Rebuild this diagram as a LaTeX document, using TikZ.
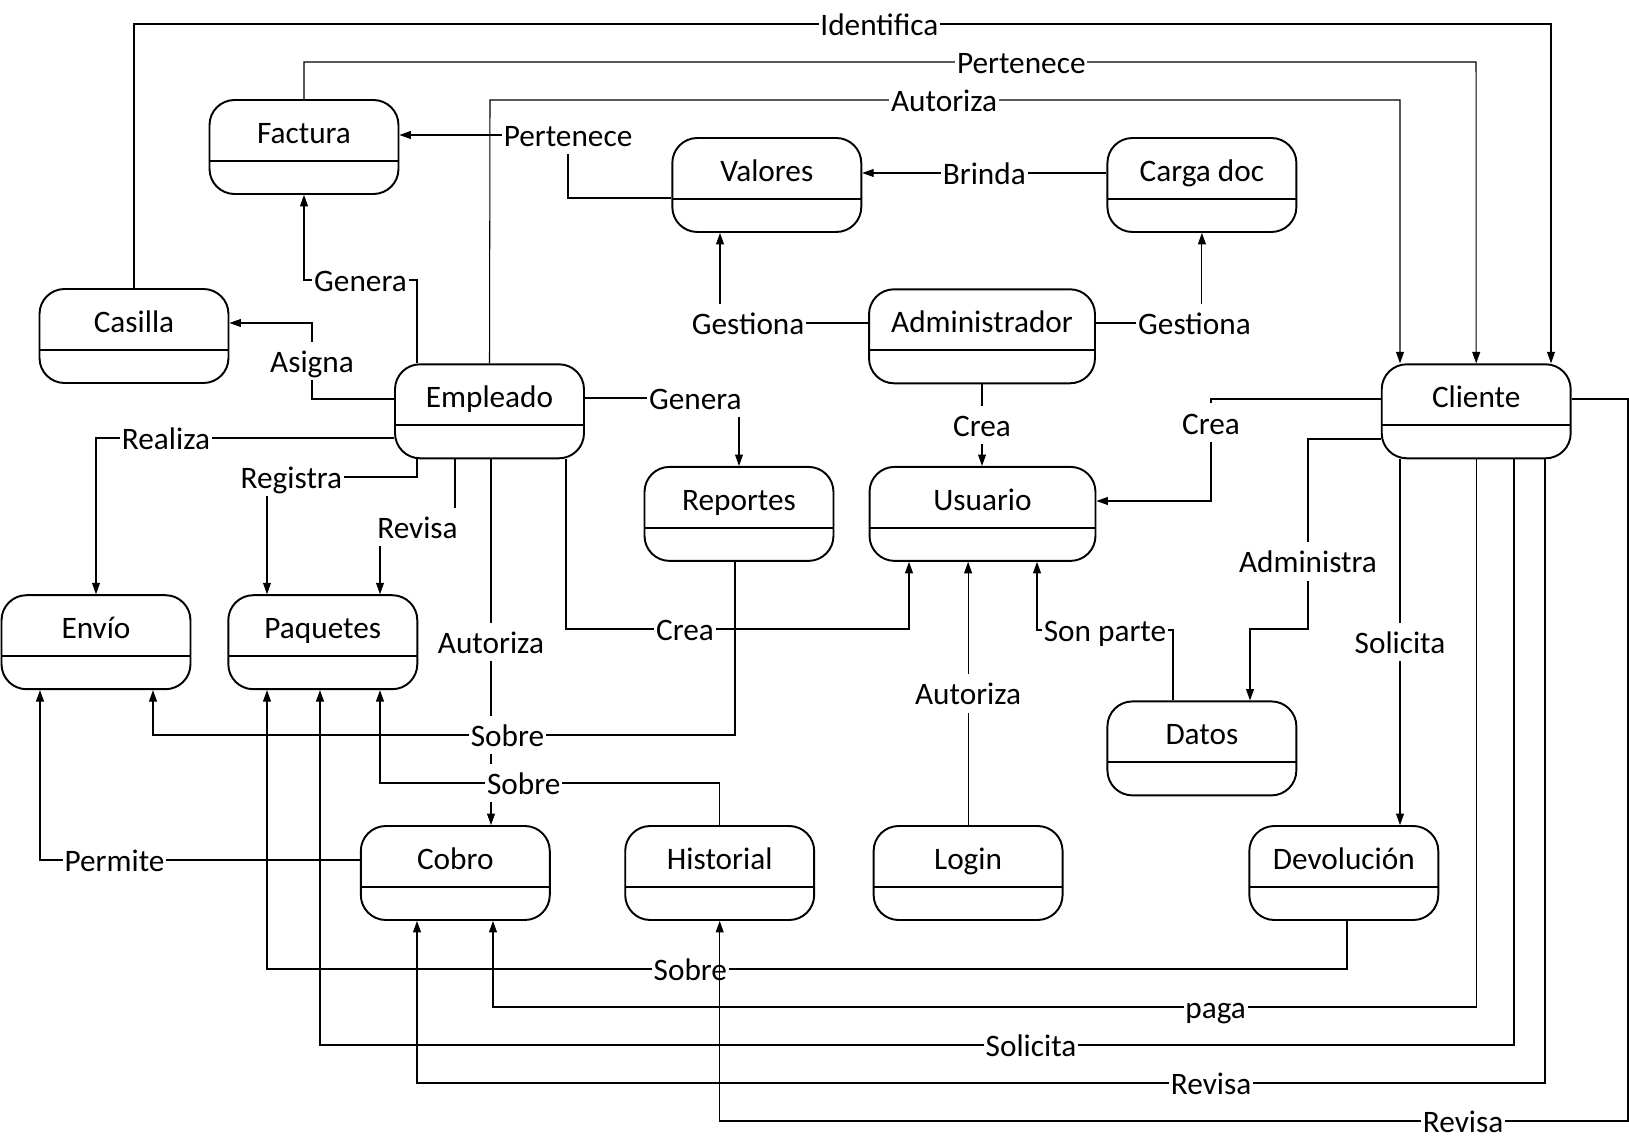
\documentclass[tikz,border=0pt]{standalone}
\usepackage{fontspec}
\setmainfont{Carlito}
\usetikzlibrary{arrows.meta}

\begin{document}
\begin{tikzpicture}[x=0.02cm, y=-0.02cm,
    every node/.style={font=\fontsize{17.8}{20}\selectfont},
    ent/.style={draw, line width=1.1pt, rounded corners=0.5cm,
      minimum width=3.78cm, minimum height=1.88cm, inner sep=0pt,
      text height=0.44cm, text depth=0.58cm,
      path picture={\draw[line width=1.1pt]
        ([yshift=0.666cm]path picture bounding box.south west) --
        ([yshift=0.666cm]path picture bounding box.south east);}},
    wide/.style={ent, minimum width=4.52cm},
    rel/.style={fill=white, inner xsep=1pt, inner ysep=4pt,
      text height=0.47cm, text depth=0.02cm},
    link/.style={line width=0.6pt, -{Triangle[length=6.5pt, width=4.5pt]}}]
  \useasboundingbox (0,0) rectangle (1629,1141);

  % Entities
  \node[ent] (factura) at (304,147) {Factura};
  \node[ent] (casilla) at (134,336) {Casilla};
  \node[ent] (empleado) at (489.5,411.3) {Empleado};
  \node[ent] (valores) at (766.8,185) {Valores};
  \node[ent] (cargadoc) at (1201.9,185) {Carga doc};
  \node[wide] (admin) at (982,336.3) {Administrador};
  \node[ent] (cliente) at (1476.2,411.3) {Cliente};
  \node[ent] (reportes) at (739,513.9) {Reportes};
  \node[wide] (usuario) at (982.5,513.9) {Usuario};
  \node[ent] (envio) at (96,642.2) {Envío};
  \node[ent] (paquetes) at (322.8,642.2) {Paquetes};
  \node[ent] (datos) at (1201.9,748.4) {Datos};
  \node[ent] (cobro) at (455.3,873) {Cobro};
  \node[ent] (historial) at (719.7,873) {Historial};
  \node[ent] (login) at (968.1,873) {Login};
  \node[ent] (devolucion) at (1343.8,873) {Devolución};

  % Long lines over the top into Cliente
  \draw[link] (casilla.north) -- (134,24) -- (1551,24)
    node[rel, pos=0.526] {Identifica} -- (1551,0 |- cliente.north);
  \draw[link] (factura.north) -- (304,62) -- (1476,62)
    node[rel, pos=0.612] {Pertenece} -- (cliente.north);
  \draw[link] (empleado.north) -- (490,100) -- (1400,100)
    node[rel, pos=0.499] {Autoriza} -- (1400,0 |- cliente.north);

  % Valores, Carga doc and Administrador
  \draw[link] (valores.west |- 0,198) -- (568,198) -- (568,135)
    node[rel, pos=1] {Pertenece} -- (factura.east |- 0,135);
  \draw[link] (cargadoc.west |- 0,173) -- (valores.east |- 0,173)
    node[rel, pos=0.5] {Brinda};
  \draw[link] (admin.west |- 0,323) -- (720,323)
    node[rel, pos=0.81] {Gestiona} -- (720,0 |- valores.south);
  \draw[link] (admin.east |- 0,323) -- (1201.9,323)
    node[rel, pos=0.93] {Gestiona} -- (cargadoc.south);
  \draw[link] (admin.south) -- (982,0 |- usuario.north)
    node[rel, pos=0.5] {Crea};

  % Empleado
  \draw[link] (417,0 |- empleado.north) -- (417,280) -- (304,280)
    node[rel, pos=0.5] {Genera} -- (factura.south);
  \draw[link] (empleado.west |- 0,399) -- (312,399) -- (312,323)
    node[rel, pos=0.5] {Asigna} -- (casilla.east |- 0,323);
  \draw[link] (empleado.west |- 0,438) -- (96,438)
    node[rel, pos=0.765] {Realiza} -- (envio.north);
  \draw[link] (417,0 |- empleado.south) -- (417,477) -- (267,477)
    node[rel, pos=0.837] {Registra} -- (267,0 |- paquetes.north);
  \draw[link] (455,0 |- empleado.south) -- (455,527) -- (380,527)
    node[rel, pos=0.5] {Revisa} -- (380,0 |- paquetes.north);
  \draw[link] (491,0 |- empleado.south) -- (491,0 |- cobro.north)
    node[rel, pos=0.5] {Autoriza};
  \draw[link] (566,0 |- empleado.south) -- (566,629) -- (909,629)
    node[rel, pos=0.347] {Crea} -- (909,0 |- usuario.south);
  \draw[link] (empleado.east |- 0,398) -- (739,398)
    node[rel, pos=0.717] {Genera} -- (reportes.north);

  % Cliente, Datos and Login
  \draw[link] (cliente.west |- 0,399) -- (1211,399) -- (1211,501)
    node[rel, pos=0.233] {Crea} -- (usuario.east |- 0,501);
  \draw[link] (cliente.west |- 0,439) -- (1308,439) -- (1308,629)
    node[rel, pos=0.644] {Administra} -- (1250,629) -- (1250,0 |- datos.north);
  \draw[link] (1400,0 |- cliente.south) -- (1400,0 |- devolucion.north)
    node[rel, pos=0.5] {Solicita};
  \draw[link] (1173,0 |- datos.north) -- (1173,630) -- (1037,630)
    node[rel, pos=0.5] {Son parte} -- (1037,0 |- usuario.south);
  \draw[link] (login.north) -- (968.1,0 |- usuario.south)
    node[rel, pos=0.5] {Autoriza};

  % Lower part
  \draw[link] (735,0 |- reportes.south) -- (735,735) -- (153,735)
    node[rel, pos=0.391] {Sobre} -- (153,0 |- envio.south);
  \draw[link] (historial.north) -- (719.7,783) -- (380,783)
    node[rel, pos=0.577] {Sobre} -- (380,0 |- paquetes.south);
  \draw[link] (cobro.west |- 0,860) -- (40,860)
    node[rel, pos=0.767] {Permite} -- (40,0 |- envio.south);
  \draw[link] (1347,0 |- devolucion.south) -- (1347,969) -- (267,969)
    node[rel, pos=0.608] {Sobre} -- (267,0 |- paquetes.south);
  \draw[link] (cliente.south) -- (1476.2,1007) -- (493,1007)
    node[rel, pos=0.265] {paga} -- (493,0 |- cobro.south);
  \draw[link] (1514,0 |- cliente.south) -- (1514,1045) -- (320,1045)
    node[rel, pos=0.4045] {Solicita} -- (320,0 |- paquetes.south);
  \draw[link] (1545,0 |- cliente.south) -- (1545,1083) -- (417,1083)
    node[rel, pos=0.296] {Revisa} -- (417,0 |- cobro.south);
  \draw[link] (cliente.east |- 0,399) -- (1628,399) -- (1628,1121) -- (719.7,1121)
    node[rel, pos=0.1816] {Revisa} -- (historial.south);
\end{tikzpicture}
\end{document}
